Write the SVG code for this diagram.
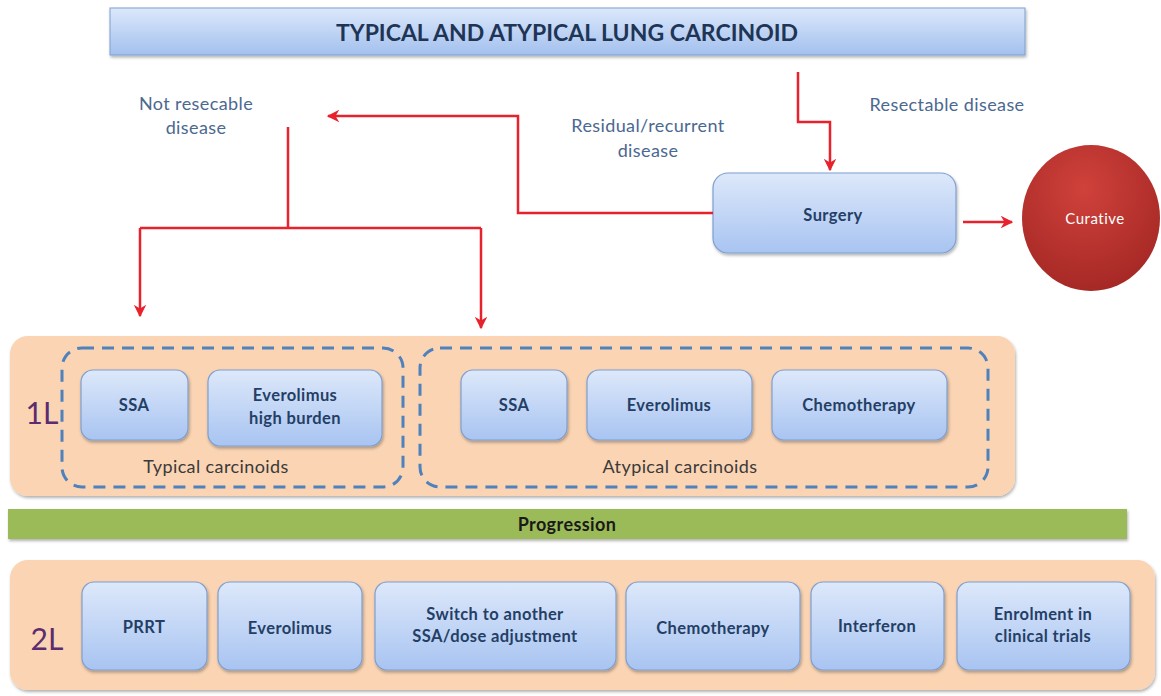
<svg xmlns="http://www.w3.org/2000/svg" width="1161" height="696" viewBox="0 0 1161 696">
<defs>
<linearGradient id="gBox" x1="0" y1="0" x2="0" y2="1">
<stop offset="0" stop-color="#DDE8FA"/>
<stop offset="1" stop-color="#A8C4F1"/>
</linearGradient>
<linearGradient id="gTitle" x1="0" y1="0" x2="0" y2="1">
<stop offset="0" stop-color="#DCE8FB"/>
<stop offset="1" stop-color="#A3C0EE"/>
</linearGradient>
<radialGradient id="gCirc" cx="0.45" cy="0.3" r="0.75">
<stop offset="0" stop-color="#D0413B"/>
<stop offset="1" stop-color="#A32724"/>
</radialGradient>
<filter id="sh" x="-10%" y="-10%" width="130%" height="140%">
<feDropShadow dx="1" dy="2" stdDeviation="1.5" flood-color="#000" flood-opacity="0.3"/>
</filter>
<marker id="ah" viewBox="0 0 10 10" refX="9" refY="5" markerWidth="5" markerHeight="5" orient="auto-start-reverse">
<path d="M0,0 L10,5 L0,10 L3,5 z" fill="#E8222C"/>
</marker>
<style>
.box{fill:url(#gBox);stroke:#7F9FCF;stroke-width:1.2;filter:url(#sh)}
.t{font-family:Lato,"Open Sans","Liberation Sans",sans-serif;font-size:16.5px;letter-spacing:0.4px;font-weight:bold;fill:#243F66;text-anchor:middle;dominant-baseline:central}
.lbl{font-family:Lato,"Open Sans","Liberation Sans",sans-serif;font-size:18px;letter-spacing:0.4px;fill:#4A6890;text-anchor:middle;dominant-baseline:central}
.panel{fill:#FAD4B3;filter:url(#sh)}
.dash{fill:none;stroke:#4F81BD;stroke-width:3;stroke-dasharray:12 8}
.ln{font-family:Lato,"Open Sans","Liberation Sans",sans-serif;font-size:30px;fill:#5B2C6F;text-anchor:middle;dominant-baseline:central}
.conn{fill:none;stroke:#E8222C;stroke-width:2.5}
.sub{font-family:Lato,"Open Sans","Liberation Sans",sans-serif;font-size:18px;letter-spacing:0.4px;fill:#3A3A3A;text-anchor:middle;dominant-baseline:central}
</style>
</defs>
<rect width="1161" height="696" fill="#FFFFFF"/>

<g id="title">
<rect x="110" y="8" width="915" height="47" fill="url(#gTitle)" stroke="#7F9FCF" stroke-width="1" filter="url(#sh)"/>
<text x="567" y="32" font-family="Lato,'Open Sans','Liberation Sans',sans-serif" font-size="23" font-weight="bold" fill="#1F3556" text-anchor="middle" dominant-baseline="central">TYPICAL AND ATYPICAL LUNG CARCINOID</text>
</g>

<g id="labels">
<text class="lbl" x="196" y="103">Not resecable</text>
<text class="lbl" x="196" y="127">disease</text>
<text class="lbl" x="648" y="125">Residual/recurrent</text>
<text class="lbl" x="648" y="150">disease</text>
<text class="lbl" x="947" y="104">Resectable disease</text>
</g>

<g id="surgery">
<rect class="box" x="713" y="173" width="243" height="80" rx="15"/>
<text class="t" x="833" y="215">Surgery</text>
</g>

<g id="curative">
<ellipse cx="1091" cy="218" rx="69" ry="73" fill="url(#gCirc)"/>
<text x="1095" y="218" font-family="Lato,'Open Sans','Liberation Sans',sans-serif" font-size="15" letter-spacing="0.5" fill="#FFFFFF" text-anchor="middle" dominant-baseline="central">Curative</text>
</g>

<g id="connectors">
<path class="conn" d="M798,72 V122 H830 V170" marker-end="url(#ah)"/>
<path class="conn" d="M713,213 H518 V116 H328" marker-end="url(#ah)"/>
<path class="conn" d="M288,127 V228"/>
<path class="conn" d="M140,228 H481"/>
<path class="conn" d="M140,228 V316" marker-end="url(#ah)"/>
<path class="conn" d="M481,228 V328" marker-end="url(#ah)"/>
<path class="conn" d="M963,222 H1012" marker-end="url(#ah)"/>
</g>

<g id="line1">
<rect class="panel" x="10" y="336" width="1005" height="160" rx="18"/>
<text class="ln" x="42" y="412">1L</text>
</g>

<g id="typical">
<rect class="dash" x="62" y="348" width="341" height="139" rx="20"/>
<text class="sub" x="216" y="466">Typical carcinoids</text>
</g>
<g id="t-ssa">
<rect class="box" x="81" y="370" width="107" height="70" rx="12"/>
<text class="t" x="134" y="405">SSA</text>
</g>
<g id="t-evero">
<rect class="box" x="208" y="370" width="174" height="76" rx="12"/>
<text class="t" x="295" y="395">Everolimus</text>
<text class="t" x="295" y="418">high burden</text>
</g>

<g id="atypical">
<rect class="dash" x="420" y="348" width="568" height="139" rx="20"/>
<text class="sub" x="680" y="466">Atypical carcinoids</text>
</g>
<g id="a-ssa">
<rect class="box" x="461" y="370" width="106" height="70" rx="12"/>
<text class="t" x="514" y="405">SSA</text>
</g>
<g id="a-evero">
<rect class="box" x="587" y="370" width="165" height="70" rx="12"/>
<text class="t" x="669" y="405">Everolimus</text>
</g>
<g id="a-chemo">
<rect class="box" x="772" y="370" width="175" height="70" rx="12"/>
<text class="t" x="859" y="405">Chemotherapy</text>
</g>

<g id="progression">
<rect x="8" y="509" width="1119" height="30" fill="#9BBB59" filter="url(#sh)"/>
<text x="567" y="524" font-family="Lato,'Open Sans','Liberation Sans',sans-serif" font-size="18" letter-spacing="0.4" font-weight="bold" fill="#1A1A1A" text-anchor="middle" dominant-baseline="central">Progression</text>
</g>

<g id="line2">
<rect class="panel" x="10" y="560" width="1145" height="130" rx="18"/>
<text class="ln" x="47" y="638">2L</text>
</g>
<g id="prrt">
<rect class="box" x="82" y="582" width="125" height="88" rx="12"/>
<text class="t" x="144" y="627">PRRT</text>
</g>
<g id="evero2">
<rect class="box" x="218" y="582" width="144" height="88" rx="12"/>
<text class="t" x="290" y="628">Everolimus</text>
</g>
<g id="switch">
<rect class="box" x="375" y="582" width="241" height="88" rx="12"/>
<text class="t" x="495" y="614">Switch  to another</text>
<text class="t" x="495" y="636">SSA/dose adjustment</text>
</g>
<g id="chemo2">
<rect class="box" x="626" y="582" width="174" height="88" rx="12"/>
<text class="t" x="713" y="628">Chemotherapy</text>
</g>
<g id="interferon">
<rect class="box" x="811" y="582" width="133" height="88" rx="12"/>
<text class="t" x="877" y="626">Interferon</text>
</g>
<g id="enrol">
<rect class="box" x="957" y="582" width="173" height="88" rx="12"/>
<text class="t" x="1043" y="614">Enrolment in</text>
<text class="t" x="1043" y="636">clinical trials</text>
</g>
</svg>
